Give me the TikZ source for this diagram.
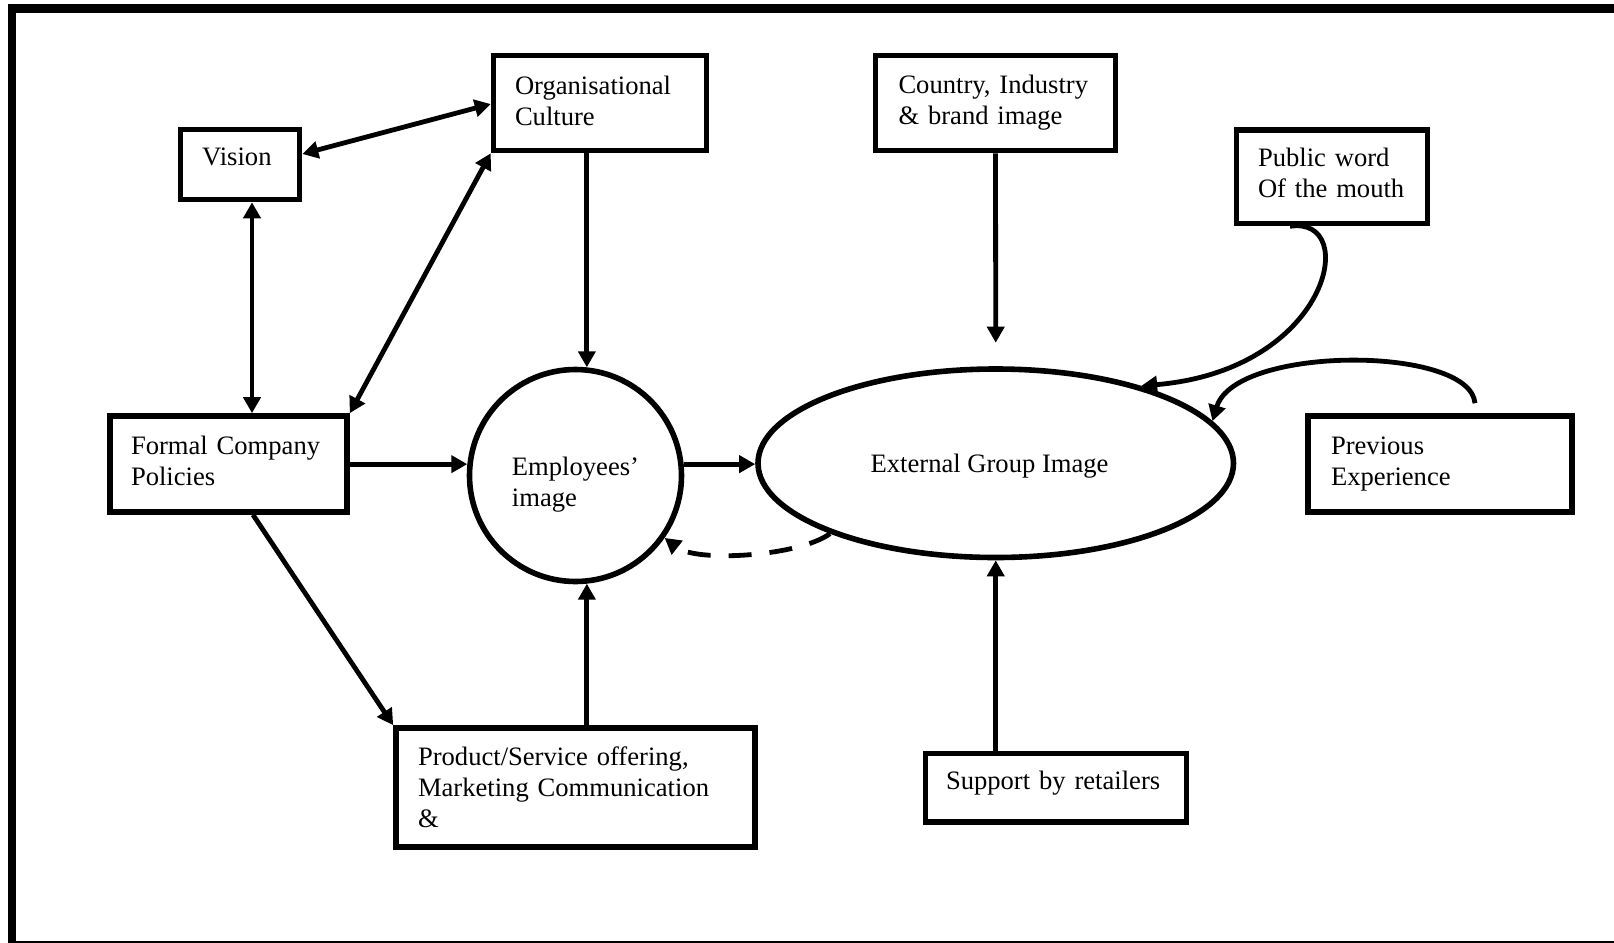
\documentclass[tikz,border=0pt]{standalone}
\usepackage{fontspec}
\setmainfont{Liberation Serif}
\usetikzlibrary{arrows.meta,shapes.geometric,calc}
\begin{document}
\begin{tikzpicture}[x=0.5pt,y=-0.5pt,
  every node/.style={font=\fontsize{13.3}{15.5}\selectfont},
  box/.style={draw, line width=2.8pt, align=left, inner ysep=0pt},
  arr/.style={line width=2.4pt, -{Triangle[length=8pt,width=8.5pt]}},
  darr/.style={line width=2.4pt, {Triangle[length=8pt,width=8.5pt]}-{Triangle[length=8pt,width=8.5pt]}},
  frame/.style={line width=4.2pt}
]
\useasboundingbox (0,0) rectangle (1614,943);
\clip (0,0) rectangle (1614,943);

% outer frame
\draw[frame] (1620,8.4) -- (12,8.4) -- (12,950);
\draw[frame] (12,945) -- (1620,945);

% boxes
\node[box, minimum width=59.5pt, minimum height=35pt, align=center, inner xsep=0pt, text depth=8pt] (vis) at (240,164.5) {Vision\hspace*{3.1pt}};
\node[box, minimum width=106.5pt, minimum height=47.5pt, inner xsep=10.75pt, text width=85pt, text depth=17.3pt] (org) at (600,103) {Organisational\\Culture};
\node[box, minimum width=120pt, minimum height=47.5pt, inner xsep=11.5pt, text width=97pt] (cty) at (995.5,103) {Country, Industry\\\& brand image};
\node[box, minimum width=95.5pt, minimum height=46.75pt, inner xsep=10.75pt, text width=74pt, text depth=19.5pt] (pub) at (1332,176.75) {Public word\\Of the mouth};
\node[box, minimum width=118.5pt, minimum height=48pt, inner xsep=10.5pt, text width=97.5pt, text depth=19.2pt] (pol) at (228.5,464) {Formal Company\\Policies};
\node[box, minimum width=132pt, minimum height=48pt, inner xsep=11.5pt, text width=109pt] (prev) at (1440,464) {Previous\\Experience};
\node[box, minimum width=179.5pt, minimum height=59.5pt, inner xsep=11pt, text width=157.5pt] (prod) at (575.5,787.5) {Product/Service offering,\\Marketing Communication\\\&};
\node[box, minimum width=130.5pt, minimum height=34.25pt, inner xsep=10.25pt, text width=110pt, text depth=7pt] (sup) at (1056,787.75) {Support by retailers};

% circle and ellipse
\node[draw, circle, line width=2.8pt, minimum size=106pt, inner sep=0pt, align=left, text height=33.6pt] (emp) at (575.5,475.5) {Employees’\\image};
\node[draw, ellipse, line width=2.8pt, minimum width=237.75pt, minimum height=94.25pt, inner sep=0pt, text height=12.5pt] (ext) at (995.75,463.25) {External Group Image\hspace*{6.2pt}};

% connectors
\draw[darr] (vis.east |- 0,154) -- (org.west |- 0,104);
\draw[darr] (vis.south -| 252,0) -- (pol.north -| 252,0);
\draw[darr] (pol.north east) -- (org.south west);
\draw[arr] (org.south -| emp.84) -- (emp.84);
\draw[arr] (pol.east |- emp.174) -- (emp.174);
\draw[arr] (pol.south -| 253,0) -- (prod.north west);
\draw[arr] (prod.north -| emp.276) -- (emp.276);
\draw[arr] (emp.6) -- (ext.west |- emp.6);
\coordinate (ctyend) at ($(ext.north)+(0,-23.5)$);
\draw[arr] (cty.south) -- (ctyend);
\draw[arr] (sup.north -| ext.south) -- (ext.south);
\draw[arr] (pub.south -| 1290,0) .. controls +(71,-11) and +(189,-16) .. (ext.28);
\coordinate (prevstart) at ($(prev.north -| 1475,0)+(0,-10)$);
\draw[arr] (prevstart) .. controls +(-5,-58) and +(23,-76) .. (ext.11);
\draw[arr, dash pattern=on 11.5pt off 9pt] (ext.203) .. controls +(-30.5,22.6) and +(32,25) .. (emp.325);
\end{tikzpicture}
\end{document}
